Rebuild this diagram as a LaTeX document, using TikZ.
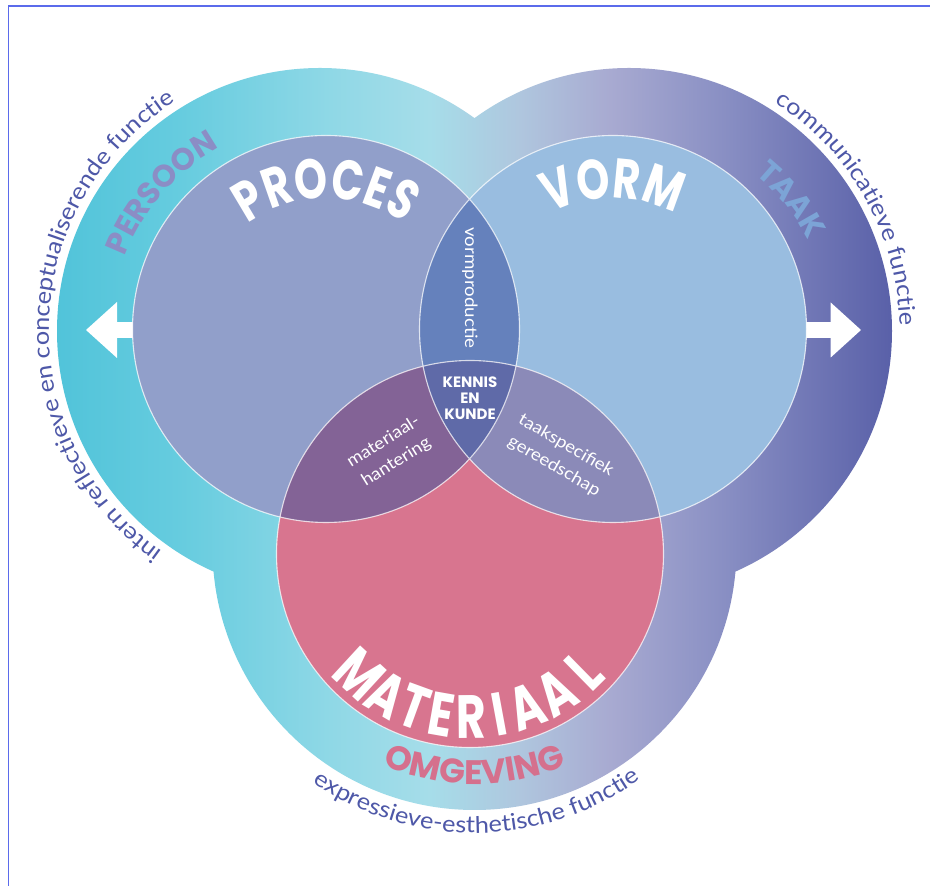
\documentclass[tikz,border=0pt]{standalone}
\usepackage{fontspec}
\setmainfont{Lato}
\newfontfamily\thinfont[FakeStretch=1.1]{Lato}
\newfontfamily\headfont[FakeStretch=0.75]{Poppins}
\newfontfamily\ringfont{Poppins}
\usetikzlibrary{decorations.text}
\definecolor{g1}{HTML}{50C3D9}
\definecolor{g2}{HTML}{66CCDF}
\definecolor{g3}{HTML}{8FD8E6}
\definecolor{g4}{HTML}{A6DDE9}
\definecolor{g5}{HTML}{AFC6DE}
\definecolor{g6}{HTML}{A8AAD1}
\definecolor{g7}{HTML}{8A90C4}
\definecolor{g8}{HTML}{575EA7}
\definecolor{lcol}{HTML}{919FCA}
\definecolor{rcol}{HTML}{99BDE0}
\definecolor{bcol}{HTML}{D8758F}
\definecolor{lrcol}{HTML}{6581BC}
\definecolor{lbcol}{HTML}{836396}
\definecolor{rbcol}{HTML}{8B8AB8}
\definecolor{allcol}{HTML}{5F6AA8}
\definecolor{fcol}{HTML}{4E58A8}
\definecolor{persooncol}{HTML}{8B8DC5}
\definecolor{taakcol}{HTML}{7CA4D6}
\definecolor{omgcol}{HTML}{D5708D}
\definecolor{framecol}{HTML}{5B6BEB}
\pgfdeclarehorizontalshading{ringshade}{100bp}{color(0bp)=(g1); color(25bp)=(g1); color(32.65bp)=(g2); color(41.47bp)=(g3); color(47.35bp)=(g4); color(52.65bp)=(g5); color(57.94bp)=(g6); color(64.41bp)=(g7); color(75bp)=(g8); color(100bp)=(g8)}
\tikzset{
  lbl/.style={text=white, inner sep=0pt, align=center, font=\thinfont\fontsize{17}{24}\selectfont},
  kklbl/.style={text=white, inner sep=0pt, align=center, font=\ringfont\bfseries\fontsize{15}{16}\selectfont},
  matl/.style={text=white, inner sep=0pt, anchor=center, font=\headfont\bfseries\fontsize{61}{61}\selectfont},
  outline/.style={draw=white, draw opacity=0.75, line width=1.1pt},
  arrowshape/.style={fill=white}
}
\begin{document}
\begin{tikzpicture}[x=1pt, y=1pt]
\useasboundingbox (0,0) rectangle (930,886);
\fill[white] (0,0) rectangle (930,886);
\draw[framecol, line width=1.3pt] (8.5,0) -- (8.5,880) -- (930,880);
% centres
\coordinate (OL) at (320,555);
\coordinate (OR) at (629,555);
\coordinate (OB) at (474.5,338);
\coordinate (L) at (326,557);
\coordinate (R) at (613,557);
\coordinate (B) at (470,332);
% outer shape
\begin{scope}
  \clip (OL) circle (263) (OR) circle (263) (OB) circle (262);
  \shade[shading=ringshade] (50,0) rectangle (900,886);
\end{scope}
% arrows
\fill[arrowshape] (86,556) -- (117,584) -- (117,563.8) -- (140,563.8) -- (140,548.2) -- (117,548.2) -- (117,528) -- cycle;
\fill[arrowshape] (861,556) -- (830.7,583.5) -- (830.7,563.8) -- (800,563.8) -- (800,548.2) -- (830.7,548.2) -- (830.7,528.5) -- cycle;
% inner circles
\fill[lcol] (L) circle (193.5);
\fill[rcol] (R) circle (193.5);
\fill[bcol] (B) circle (193.5);
\begin{scope}
  \clip (R) circle (193.5);
  \fill[rbcol] (B) circle (193.5);
\end{scope}
\begin{scope}
  \clip (L) circle (193.5);
  \fill[lrcol] (R) circle (193.5);
  \fill[lbcol] (B) circle (193.5);
  \clip (R) circle (193.5);
  \fill[allcol] (B) circle (193.5);
\end{scope}
\path[outline] (L) circle (193.5) (R) circle (193.5) (B) circle (193.5);
% curved titles
\path[decorate, shift={(L)}, decoration={text along path, text align=center,
  text={|\color{white}\headfont\bfseries\fontsize{56}{56}\selectfont|PROCES}}]
  (165:131) arc[start angle=165, end angle=15, radius=131];
\path[decorate, shift={(R)}, decoration={text along path, text align=center,
  text={|\color{white}\headfont\bfseries\fontsize{56}{56}\selectfont|VORM}}]
  (165:131) arc[start angle=165, end angle=15, radius=131];
\foreach \ch/\a [count=\i] in {M/-42.6, A/-30.5, T/-20, E/-10, R/0.5, I/10.5, A/20.5, A/32, L/44.5}
  \node[matl, rotate=\a] (mat\i) at ([shift={(270+\a:163)}]B) {\ch};
% ring words
\path[decorate, shift={(OL)}, decoration={text along path, text align=center,
  text={|\color{persooncol}\ringfont\bfseries\fontsize{31}{31}\selectfont|PERSOON}}]
  (209:209) arc[start angle=209, end angle=69, radius=209];
\path[decorate, shift={(OR)}, decoration={text along path, text align=center,
  text={|\color{taakcol}\ringfont\bfseries\fontsize{31}{31}\selectfont|TAAK}}]
  (109:201) arc[start angle=109, end angle=-31, radius=201];
\path[decorate, shift={(OB)}, decoration={text along path, text align=center,
  text={|\color{omgcol}\ringfont\bfseries\fontsize{34}{34}\selectfont|OMGEVING}}]
  (200:236) arc[start angle=200, end angle=340, radius=236];
% function texts
\path[decorate, shift={(OB)}, decoration={text along path, text align=center,
  text={|\color{fcol}\thinfont\fontsize{23}{23}\selectfont|expressieve-esthetische functie}}]
  (200.5:285) arc[start angle=200.5, end angle=340.5, radius=285];
\path[decorate, shift={(OR)}, decoration={text along path, text align=center,
  text={|\color{fcol}\thinfont\fontsize{23}{23}\selectfont|communicatieve functie}}]
  (99.3:271) arc[start angle=99.3, end angle=-40.7, radius=271];
\path[decorate, shift={(OL)}, decoration={text along path, text align=center,
  text={|\color{fcol}\thinfont\fontsize{23}{23}\selectfont|intern reflectieve en conceptualiserende functie}}]
  (258.35:271) arc[start angle=258.35, end angle=98.35, radius=271];
% overlap labels
\node[lbl, rotate=-90] (vp) at (470,598) {vormproductie};
\node[kklbl] (kk) at (470,488) {KENNIS\\EN\\KUNDE};
\node[lbl, rotate=32] (mh) at (390,434) {materiaal-\\hantering};
\node[lbl, rotate=-30] (tg) at (560,430) {taakspecifiek\\gereedschap};
\end{tikzpicture}
\end{document}
